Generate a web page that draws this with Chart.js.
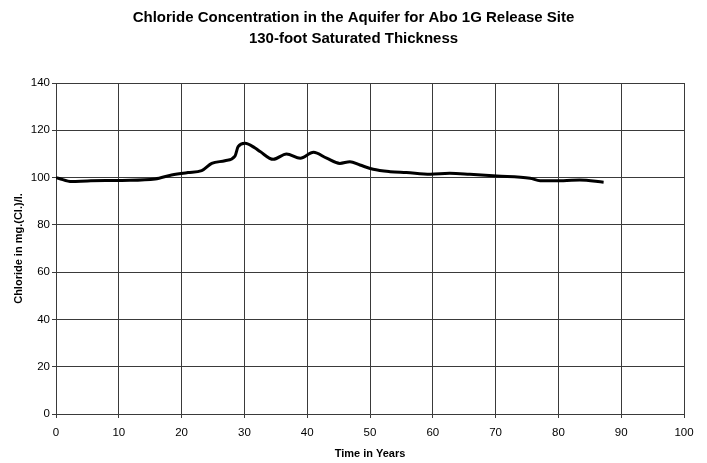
<!DOCTYPE html>
<html>
<head>
<meta charset="utf-8">
<script src="https://cdn.jsdelivr.net/npm/chart.js@4/dist/chart.umd.min.js"></script>
<style>
  html, body { margin: 0; padding: 0; background: #fff; }
  canvas { display: block; }
</style>
</head>
<body>
<canvas id="c" width="707" height="463"></canvas>
<script>
// Data
const years = [0, 0.5, 2.5, 5, 10.5, 15.8, 18.4, 21, 23.2, 24.8, 26.9, 28.5, 29, 30.1, 31.7, 32.5, 34.6, 36.7, 38.9, 41, 43.1, 45.2, 46.8, 48.4, 50.5, 53.2, 55.8, 59.6, 62.7, 65.9, 70.2, 75.5, 77.1, 80.8, 83.4, 87.2];
const chloride = [100, 99.6, 98.3, 98.6, 98.8, 99.4, 101.1, 102.1, 102.9, 106, 107.1, 109.1, 113.1, 114.5, 112.5, 111, 107.7, 110, 108.2, 110.7, 108.2, 106, 106.7, 105.3, 103.5, 102.5, 102.1, 101.4, 101.8, 101.4, 100.7, 99.7, 98.7, 98.7, 99, 98];
const xTicks = [0, 10, 20, 30, 40, 50, 60, 70, 80, 90, 100];
const yTicks = [0, 20, 40, 60, 80, 100, 120, 140];
const titleLines = ['Chloride Concentration in the Aquifer for Abo 1G Release Site', '130-foot Saturated Thickness'];
const xTitle = 'Time in Years';
const yTitle = 'Chloride in mg.(Cl.)/l.';

const points = years.map((x, i) => ({ x: x, y: chloride[i] }));
const FONT = '"Liberation Sans", Arial, sans-serif';
const gridColor = '#3a3a3a';

new Chart(document.getElementById('c'), {
  type: 'line',
  data: {
    datasets: [{
      data: points,
      borderColor: '#000',
      borderWidth: 3,
      pointRadius: 0,
      fill: false,
      cubicInterpolationMode: 'monotone',
      yAxisID: 'y'
    }]
  },
  options: {
    responsive: false,
    animation: false,
    devicePixelRatio: 1,
    layout: { padding: { left: 0, right: 0, top: 0, bottom: 0 } },
    plugins: {
      legend: { display: false },
      tooltip: { enabled: false },
      title: {
        display: true,
        text: titleLines,
        color: '#000',
        font: { family: FONT, size: 15, weight: 'bold', lineHeight: 1.35 },
        padding: { top: 8, bottom: 34.5 }
      }
    },
    scales: {
      x: {
        type: 'linear',
        min: 0, max: 100,
        afterFit: (s) => { s.height = 49; },
        afterBuildTicks: (s) => { s.ticks = xTicks.map(v => ({ value: v })); },
        ticks: { color: '#000', font: { family: FONT, size: 11.5 }, padding: 8, maxRotation: 0 },
        grid: { color: gridColor, lineWidth: 1, tickLength: 4, drawTicks: true },
        border: { color: gridColor, width: 1 },
        title: {
          display: true, text: xTitle, color: '#000',
          font: { family: FONT, size: 11, weight: 'bold' },
          padding: { top: 0, bottom: 2.4 }
        }
      },
      y: {
        type: 'linear',
        position: 'left',
        min: 0, max: 140,
        afterFit: (s) => { s.width = 56; },
        afterBuildTicks: (s) => { s.ticks = yTicks.map(v => ({ value: v })); },
        ticks: { color: '#000', font: { family: FONT, size: 11.5 }, padding: 2 },
        grid: { color: gridColor, lineWidth: 1, tickLength: 4, drawTicks: true },
        border: { color: gridColor, width: 1 },
        title: {
          display: true, text: yTitle, color: '#000',
          font: { family: FONT, size: 11, weight: 'bold' },
          padding: { top: 12.4, bottom: 0 }
        }
      },
      yRight: {
        type: 'linear',
        position: 'right',
        min: 0, max: 1,
        afterFit: (s) => { s.width = 23; },
        ticks: { display: false },
        grid: { display: false, drawOnChartArea: false },
        border: { display: false }
      }
    }
  }
});
</script>
</body>
</html>
